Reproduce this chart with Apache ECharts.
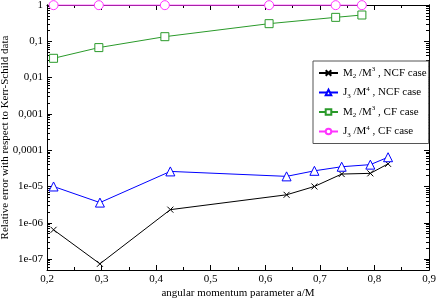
<!DOCTYPE html>
<html><head><meta charset="utf-8">
<script src="https://cdn.jsdelivr.net/npm/echarts@6/dist/echarts.min.js"></script>
<style>html,body{margin:0;padding:0;background:#fff}#c{width:436px;height:298px}</style>
</head><body><div id="c"></div>
<script>
// ---- data ----
const xNCF = [0.212, 0.297, 0.426, 0.639, 0.690, 0.740, 0.7925, 0.825];
const m2NCF = [6.4e-7, 7.4e-8, 2.3e-6, 5.9e-6, 1.0e-5, 2.2e-5, 2.3e-5, 4.2e-5];
const j3NCF = [1.0e-5, 3.6e-6, 2.6e-5, 1.9e-5, 2.7e-5, 3.5e-5, 4.0e-5, 6.4e-5];
const xCF = [0.212, 0.295, 0.416, 0.607, 0.729, 0.777];
const m2CF = [0.034, 0.067, 0.134, 0.306, 0.457, 0.53];
const j3CF = [0.99, 0.99, 0.99, 0.99, 0.99, 0.99];
const seriesNames = ['M2 NCF', 'J3 NCF', 'M2 CF', 'J3 CF'];
const legendLabels = [
  '{n|M}{sub|2}{n| /M}{sup|3}{n| , NCF case}',
  '{n|J}{sub|3}{n| /M}{sup|4}{n| , NCF case}',
  '{n|M}{sub|2}{n| /M}{sup|3}{n| , CF case}',
  '{n|J}{sub|3}{n| /M}{sup|4}{n| , CF case}'
];
const xTitle = 'angular momentum parameter a/M';
const yTitle = 'Relative error with respect to Kerr-Schild data';
const yTickValues = [1e-7, 1e-6, 1e-5, 1e-4, 1e-3, 1e-2, 1e-1, 1];
const yTickLabels = ['1e-07', '1e-06', '1e-05', '0,0001', '0,001', '0,01', '0,1', '1'];
const yMin = 5e-8, yMax = 1;
// minor tick positions (2..9 x each decade)
const yMinorTicks = [];
for (let e = -8; e <= -1; e++) for (let m = 2; m <= 9; m++) {
  const v = m * Math.pow(10, e);
  if (v >= yMin && v < yMax) yMinorTicks.push(v);
}

const FONT = '"Liberation Serif", "DejaVu Serif", serif';
const colors = ['#000000', '#0000ff', '#2a9a2a', '#ff33ff'];
const crossPath = 'path://M0,0L10,10M10,0L0,10';
const symbols = [crossPath, 'triangle', 'rect', 'circle'];
const symbolSizes = [6, 9, 8, 9];

function yLabel(v) {
  const i = yTickValues.findIndex(t => Math.abs(Math.log10(t) - Math.log10(v)) < 0.01);
  return i >= 0 ? yTickLabels[i] : '';
}

const axisLineStyle = {show: true, lineStyle: {color: '#000', width: 1}};
function xAx(pos, showLabels) {
  return {
    type: 'value', position: pos, min: 0.2, max: 0.9, interval: 0.1,
    axisLine: axisLineStyle,
    axisTick: {show: true, inside: true, length: 5, lineStyle: {color: '#000'}},
    minorTick: {show: true, splitNumber: 2, length: 3, lineStyle: {color: '#000'}},
    splitLine: {show: false},
    axisLabel: {show: showLabels, fontFamily: FONT, fontSize: 11, color: '#000', margin: 4,
      formatter: v => v.toFixed(1).replace('.', ',')},
    name: showLabels ? xTitle : '', nameLocation: 'middle', nameGap: 18, nameMoveOverlap: false,
    nameTextStyle: {fontFamily: FONT, fontSize: 11, color: '#000'}
  };
}
function yAx(pos, major, showLabels) {
  return {
    type: 'log', logBase: 10, position: pos, min: yMin, max: yMax,
    axisLine: axisLineStyle,
    axisTick: {show: true, inside: true, length: major ? 5 : 3, lineStyle: {color: '#000'},
      customValues: major ? yTickValues : yMinorTicks},
    splitLine: {show: false},
    axisLabel: showLabels ? {show: true, fontFamily: FONT, fontSize: 11, color: '#000', margin: 4,
      customValues: yTickValues, formatter: yLabel} : {show: false},
    name: showLabels ? yTitle : '', nameLocation: 'middle', nameGap: 36, nameMoveOverlap: false,
    nameTextStyle: {fontFamily: FONT, fontSize: 11, color: '#000'}
  };
}

const xs = [xNCF, xNCF, xCF, xCF];
const ys = [m2NCF, j3NCF, m2CF, j3CF];
const series = seriesNames.map((n, i) => ({
  name: n, type: 'line', xAxisIndex: 0, yAxisIndex: 0,
  data: xs[i].map((x, k) => [x, ys[i][k]]),
  symbol: symbols[i], symbolSize: symbolSizes[i], showSymbol: true, clip: false,
  lineStyle: {color: colors[i], width: 1},
  itemStyle: {color: i === 0 ? colors[0] : '#fff', borderColor: colors[i], borderWidth: 1},
  emphasis: {disabled: true}, animation: false, z: 3 + i
}));

const chart = echarts.init(document.getElementById('c'), null, {renderer: 'canvas'});
chart.setOption({
  animation: false,
  grid: {left: 47, right: 7, top: 5, bottom: 28, containLabel: false, outerBoundsMode: 'none'},
  xAxis: [xAx('bottom', true), xAx('top', false)],
  yAxis: [yAx('left', true, true), yAx('left', false, false), yAx('right', true, false), yAx('right', false, false)],
  legend: {
    show: true, orient: 'vertical', left: 313, top: 61,
    data: seriesNames, itemWidth: 19, itemHeight: 7, itemGap: 5.5,
    padding: [5, 2, 5, 5],
    backgroundColor: '#fff', borderColor: '#555', borderWidth: 1,
    formatter: n => legendLabels[seriesNames.indexOf(n)],
    textStyle: {fontFamily: FONT, color: '#000', fontSize: 11,
      rich: {
        n: {fontFamily: FONT, fontSize: 11, lineHeight: 14, color: '#000'},
        sub: {fontFamily: FONT, fontSize: 7, lineHeight: 7, verticalAlign: 'bottom', color: '#000'},
        sup: {fontFamily: FONT, fontSize: 7, lineHeight: 7, verticalAlign: 'top', color: '#000'}
      }},
    selectedMode: false
  },
  series: series
});
</script></body></html>
